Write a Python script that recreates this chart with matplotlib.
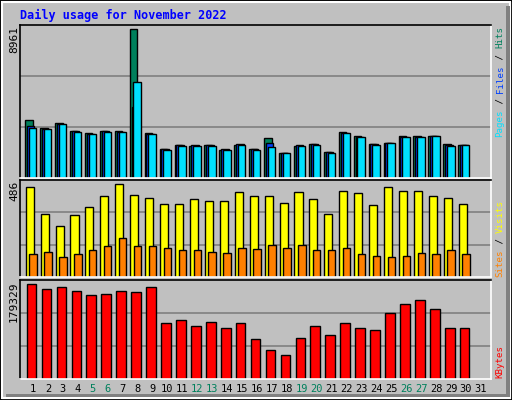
import numpy as np
import matplotlib
matplotlib.use("Agg")
import matplotlib.pyplot as plt
from matplotlib.patches import Rectangle

days = list(range(1, 32))
weekend = [5, 6, 12, 13, 19, 20, 26, 27]

hits = [3475, 2987, 3292, 2804, 2682, 2835, 2835, 8961, 2682, 1768, 2012, 1951, 2012, 1707, 2012,
        1737, 2377, 1524, 1951, 2073, 1585, 2743, 2499, 2073, 2134, 2499, 2499, 2499, 2073, 2012]
files = [3109, 2956, 3261, 2804, 2651, 2804, 2774, 4267, 2651, 1737, 1981, 1981, 1981, 1737, 2042,
         1737, 2134, 1524, 1981, 2042, 1554, 2713, 2469, 2042, 2134, 2469, 2469, 2499, 2012, 2012]
pages = [2987, 2926, 3231, 2774, 2621, 2774, 2743, 5791, 2621, 1707, 1951, 1951, 1951, 1707, 2012,
         1707, 1890, 1494, 1951, 2012, 1524, 2682, 2438, 2012, 2134, 2438, 2438, 2499, 1951, 2012]
visits = [470, 328, 270, 323, 365, 423, 486, 428, 412, 381, 381, 407, 397, 397, 444,
          423, 423, 386, 444, 407, 328, 449, 439, 375, 470, 449, 449, 423, 412, 381]
sites = [123, 133, 107, 123, 144, 160, 202, 165, 160, 154, 139, 139, 133, 128, 154,
         149, 170, 154, 170, 144, 139, 154, 123, 112, 107, 112, 128, 118, 139, 123]
kbytes = [179329, 170170, 173443, 167552, 159698, 161662, 167552, 165589, 173443, 106684,
          112574, 100793, 108647, 96866, 106684, 75268, 55633, 45815, 77231, 100793,
          83122, 106684, 96866, 92939, 124355, 142027, 149881, 132209, 96866, 96866]

C_HITS, C_FILES, C_PAGES = "#00805c", "#0040ff", "#00e0ff"
C_VISITS, C_SITES, C_KB = "#ffff00", "#ff8000", "#ff0000"
BG = "#c0c0c0"
MONO = "DejaVu Sans Mono"

W, H = 512, 400
fig = plt.figure(figsize=(W / 100, H / 100), dpi=100, facecolor=BG)

# frame: white outer border, dark shadow right/bottom
fig.patches.append(Rectangle((0, 0), 1, 1, transform=fig.transFigure, fill=False,
                             ec="black", lw=2))
fig.patches.append(Rectangle((2 / W, 2 / H), 1 - 4 / W, 1 - 4 / H, transform=fig.transFigure,
                             fill=False, ec="white", lw=1.5))
fig.patches.append(Rectangle((1 - 6 / W, 4 / H), 4 / W, 1 - 10 / H, transform=fig.transFigure,
                             color="#808080", lw=0))
fig.patches.append(Rectangle((6 / W, 3 / H), 1 - 8 / W, 3 / H, transform=fig.transFigure,
                             color="#808080", lw=0))


def make_ax(top, bottom, left=20, right=491):
    ax = fig.add_axes([left / W, 1 - bottom / H, (right - left) / W, (bottom - top) / H])
    ax.set_facecolor(BG)
    ax.set_xlim(0.13, 31.67)
    for s in ("left", "top"):
        ax.spines[s].set_color("black")
    for s in ("right", "bottom"):
        ax.spines[s].set_color("white")
    for s in ax.spines.values():
        s.set_linewidth(1.2)
    ax.set_xticks([])
    ax.set_yticks([])
    return ax


def grid(ax, ymax):
    ax.set_ylim(0, ymax)
    for f in (1 / 3, 2 / 3):
        ax.axhline(ymax * f, color="#808080", lw=1.2, zorder=0)


d = np.array(days[:30])

ax1 = make_ax(25, 178)
grid(ax1, max(hits) * 153 / 149)
ax1.bar(d - 0.52, hits, width=0.5, align="edge", color=C_HITS, ec="black", lw=1)
ax1.bar(d - 0.40, files, width=0.5, align="edge", color=C_FILES, ec="black", lw=1)
ax1.bar(d - 0.27, pages, width=0.5, align="edge", color=C_PAGES, ec="black", lw=1)

ax2 = make_ax(180, 277)
grid(ax2, max(visits) * 97 / 92.7)
ax2.bar(d - 0.49, visits, width=0.54, align="edge", color=C_VISITS, ec="black", lw=1)
ax2.bar(d - 0.25, sites, width=0.5, align="edge", color=C_SITES, ec="black", lw=1)

ax3 = make_ax(280, 379)
grid(ax3, max(kbytes) * 99 / 94.7)
ax3.bar(d - 0.42, kbytes, width=0.65, align="edge", color=C_KB, ec="black", lw=1)


def px(x, y):
    return x / W, 1 - y / H


fig.text(*px(20, 15), "Daily usage for November 2022", color="#0000ff", family=MONO,
         fontsize=8.5, fontweight="bold", va="center", ha="left")

# left max labels
for y, s in ((26, "8961"), (181, "486"), (282, "179329")):
    fig.text(*px(14, y), s, rotation=90, family=MONO, fontsize=8, va="top", ha="center")

# day labels
for i in days:
    x = 20 + (i - 0.13) * 471 / 31.54
    fig.text(*px(x, 389), str(i), family=MONO, fontsize=7.5, ha="center", va="center",
             color=C_HITS if i in weekend else "black")

# right legends, drawn bottom-to-top piece by piece
ADV = 5.55


def vlabel(y0, parts):
    pos = 0
    for txt, col in parts:
        if txt.strip():
            fig.text(*px(500, y0 - pos * ADV), txt, rotation=90, family=MONO, fontsize=6.6,
                     color=col, ha="left", va="center", rotation_mode="anchor")
        pos += len(txt)


vlabel(137, [("Pages", C_PAGES), (" / ", "black"), ("Files", C_FILES),
             (" / ", "black"), ("Hits", C_HITS)])
vlabel(277, [("Sites", C_SITES), (" / ", "black"), ("Visits", C_VISITS)])
vlabel(378, [("KBytes", C_KB)])

fig.savefig("out.png", dpi=100, facecolor=BG)
